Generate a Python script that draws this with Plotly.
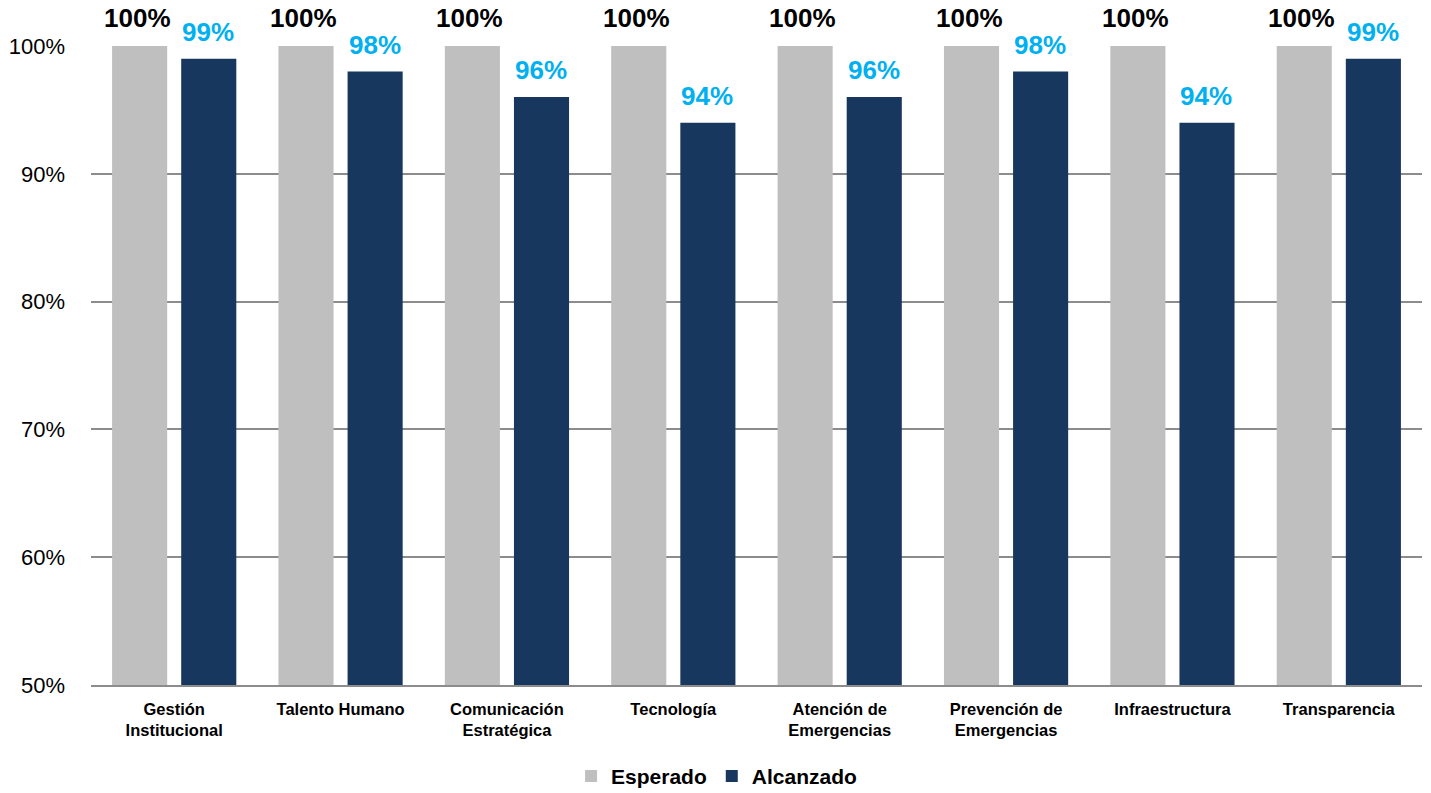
import plotly.graph_objects as go

categories = ["Gestión<br>Institucional", "Talento Humano", "Comunicación<br>Estratégica",
              "Tecnología", "Atención de<br>Emergencias", "Prevención de<br>Emergencias",
              "Infraestructura", "Transparencia"]
esperado = [100, 100, 100, 100, 100, 100, 100, 100]
alcanzado = [99, 98, 96, 94, 96, 98, 94, 99]
y_ticks = [50, 60, 70, 80, 90, 100]
y_tick_labels = ["50%", "60%", "70%", "80%", "90%", "100%"]

FONT = "Liberation Sans, Arial, sans-serif"

fig = go.Figure()
fig.add_trace(go.Bar(name="Esperado", x=categories, y=esperado, marker_color="#BFBFBF",
                     marker_line_width=0))
fig.add_trace(go.Bar(name="Alcanzado", x=categories, y=alcanzado, marker_color="#17375E",
                     marker_line_width=0))

# data labels placed above each bar via the axes
for cat, val in zip(categories, esperado):
    fig.add_annotation(x=cat, y=val, xref="x", yref="y", text=f"<b>{val}%</b>",
                       showarrow=False, yanchor="bottom", xshift=-37, yshift=11,
                       font=dict(family=FONT, size=26, color="#000000"))
for cat, val in zip(categories, alcanzado):
    fig.add_annotation(x=cat, y=val, xref="x", yref="y", text=f"<b>{val}%</b>",
                       showarrow=False, yanchor="bottom", xshift=34, yshift=10,
                       font=dict(family=FONT, size=26, color="#00B0F0"))

fig.update_layout(
    width=1431, height=793,
    margin=dict(l=91, r=9, t=46, b=108, autoexpand=False),
    barmode="group", bargap=0.169, bargroupgap=0.203,
    plot_bgcolor="white", paper_bgcolor="white",
    font=dict(family=FONT, color="#000000"),
    showlegend=True,
    legend=dict(orientation="h", x=0.47, xanchor="center", y=-0.143, yanchor="middle",
                font=dict(family=FONT, size=21, color="#000000", weight="bold"),
                traceorder="normal"),
    yaxis=dict(range=[50, 100], tickvals=y_ticks, ticktext=y_tick_labels,
               showgrid=True, gridcolor="#8C8C8C", gridwidth=1.5, automargin=False,
               zeroline=False, showline=False, ticks="", ticklen=0, ticklabelstandoff=25,
               tickfont=dict(family=FONT, size=22, color="#000000")),
    xaxis=dict(showline=True, linecolor="#8C8C8C", linewidth=1.5, ticks="", automargin=False,
               ticklabelstandoff=8,
               tickfont=dict(family=FONT, size=16.5, color="#000000", weight="bold")),
)
fig.write_html("out.html", config={"displayModeBar": False},
               post_script="document.body.style.margin='0px';")
